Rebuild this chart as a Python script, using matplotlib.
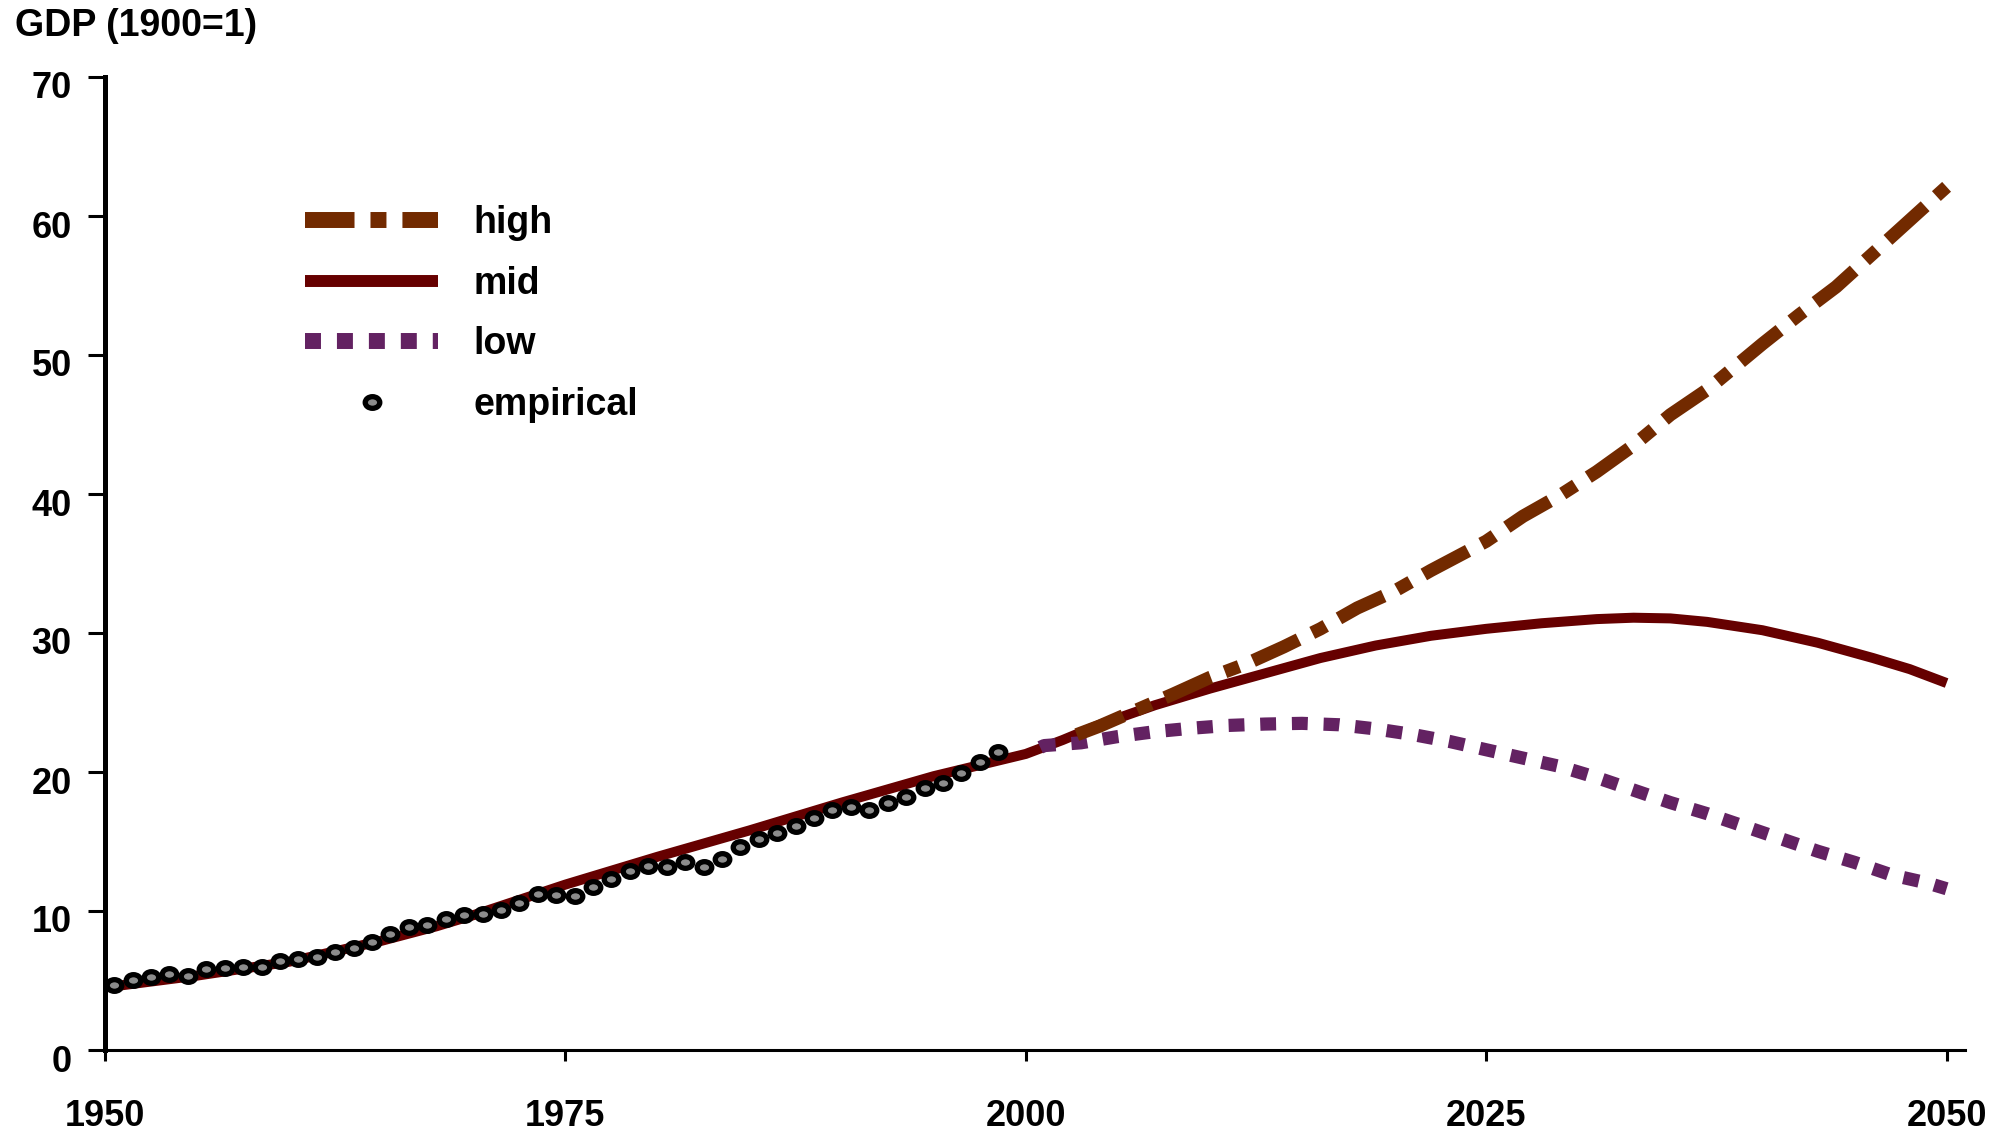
import numpy as np
import matplotlib.pyplot as plt
from matplotlib.lines import Line2D
from matplotlib.path import Path
from matplotlib.transforms import ScaledTranslation

plt.rcParams['font.family'] = ['Liberation Sans', 'DejaVu Sans']
plt.rcParams['font.weight'] = 'bold'

# empirical GDP, one value per year 1950..1998 (drawn at mid-year)
emp_years = np.arange(1950, 1999)
emp_gdp = [4.68, 5.04, 5.23, 5.45, 5.32, 5.81, 5.88, 5.99, 5.95, 6.40,
           6.55, 6.67, 7.07, 7.36, 7.79, 8.35, 8.83, 8.99, 9.40, 9.69,
           9.78, 10.07, 10.60, 11.20, 11.15, 11.08, 11.70, 12.28, 12.88, 13.24,
           13.14, 13.50, 13.19, 13.74, 14.63, 15.18, 15.63, 16.12, 16.67, 17.27,
           17.46, 17.27, 17.79, 18.22, 18.83, 19.23, 19.95, 20.70, 21.46]

# model runs
mid_years = [1950, 1955, 1960, 1965, 1968, 1970, 1975, 1980, 1985, 1990, 1995,
             2000, 2002, 2004, 2007, 2010, 2013, 2016, 2019, 2022, 2025, 2028,
             2031, 2033, 2035, 2037, 2040, 2043, 2046, 2048, 2050]
mid_gdp = [4.5, 5.35, 6.35, 7.85, 8.9, 9.7, 11.9, 13.9, 15.8, 17.8, 19.7,
           21.3, 22.3, 23.4, 24.8, 26.0, 27.1, 28.2, 29.1, 29.8, 30.3, 30.7,
           31.0, 31.1, 31.05, 30.8, 30.2, 29.3, 28.2, 27.4, 26.4]

high_years = [2002, 2004, 2006, 2008, 2010, 2012, 2014, 2016, 2018, 2020, 2022,
              2025, 2027, 2029, 2031, 2033, 2035, 2037, 2040, 2042, 2044, 2046,
              2048, 2050]
high_gdp = [22.3, 23.3, 24.45, 25.6, 26.8, 27.8, 29.0, 30.3, 31.8, 33.0, 34.5,
            36.6, 38.4, 39.9, 41.6, 43.5, 45.7, 47.5, 50.8, 52.9, 54.9, 57.3,
            59.7, 62.1]

low_years = [2000, 2001, 2003, 2005, 2007, 2009, 2011, 2013, 2015, 2017, 2019,
             2021, 2023, 2025, 2027, 2029, 2031, 2033, 2035, 2037, 2039, 2041,
             2043, 2045, 2047, 2049, 2050]
low_gdp = [21.3, 21.9, 22.1, 22.55, 22.9, 23.15, 23.35, 23.45, 23.5, 23.4, 23.1,
           22.7, 22.2, 21.6, 21.0, 20.4, 19.6, 18.7, 17.8, 17.0, 16.1, 15.2,
           14.3, 13.5, 12.6, 12.0, 11.6]

c_high = '#722a00'
c_mid = '#660000'
c_low = '#632262'
c_face = '#8c8c8c'

# slightly flattened circle for the empirical points
circ = Path.unit_circle()
ell = Path(circ.vertices * np.array([1.0, 0.8]), circ.codes)

W, H = 2007, 1135
fig = plt.figure(figsize=(W / 100, H / 100), dpi=100)
ax = fig.add_axes([105 / W, 1 - 1050 / H, (1965 - 105) / W, (1050 - 77) / H])

ax.plot(mid_years, mid_gdp, color=c_mid, lw=7.2, solid_capstyle='butt',
        solid_joinstyle='round', zorder=2)
ax.plot(low_years, low_gdp, color=c_low, lw=9.5, ls=(1.2, (1.2, 1.2)),
        dash_capstyle='butt', zorder=3)
ax.plot(high_years, high_gdp, color=c_high, lw=9.5,
        ls=(6.1, (3.8, 1.15, 1.15, 1.15)), dash_capstyle='butt', zorder=4)
ax.plot(emp_years + 0.5, emp_gdp, ls='none', marker=ell, ms=10.5, mfc=c_face,
        mec='black', mew=3.8, zorder=5)

ax.set_xlim(1950, 2051)
ax.set_ylim(0, 70)
ax.set_xticks([1950, 1975, 2000, 2025, 2050])
ax.set_yticks(range(0, 71, 10))

for s in ['top', 'right']:
    ax.spines[s].set_visible(False)
ax.spines['left'].set_linewidth(3.6)
ax.spines['bottom'].set_linewidth(2.2)
ax.tick_params(axis='y', direction='out', length=12, width=2.2, pad=12,
               labelsize=26)
ax.tick_params(axis='x', direction='out', length=8, width=2.2, pad=27,
               labelsize=26)

# y labels sit a little below their ticks
off = ScaledTranslation(0, -0.08, fig.dpi_scale_trans)
for lab in ax.get_yticklabels():
    lab.set_transform(lab.get_transform() + off)

fig.text(15 / W, 1 - 26 / H, 'GDP (1900=1)', fontsize=27, fontweight='bold',
         ha='left', va='center')

handles = [
    Line2D([], [], color=c_high, lw=11.5, dashes=(3.1, 1, 1, 1), dash_capstyle='butt'),
    Line2D([], [], color=c_mid, lw=8.6, solid_capstyle='butt'),
    Line2D([], [], color=c_low, lw=11.5, dashes=(1, 1), dash_capstyle='butt'),
    Line2D([], [], ls='none', marker=ell, ms=10.5, mfc=c_face, mec='black', mew=3.8),
]
labels = ['high', 'mid', 'low', 'empirical']
ax.legend(handles, labels, loc='center left',
          bbox_to_anchor=(305 / W, 1 - 314 / H), bbox_transform=fig.transFigure,
          frameon=False, prop={'size': 27, 'weight': 'bold'},
          handlelength=3.55, handletextpad=0.95, labelspacing=0.66,
          borderpad=0, borderaxespad=0)

fig.savefig('out.png', dpi=100)
